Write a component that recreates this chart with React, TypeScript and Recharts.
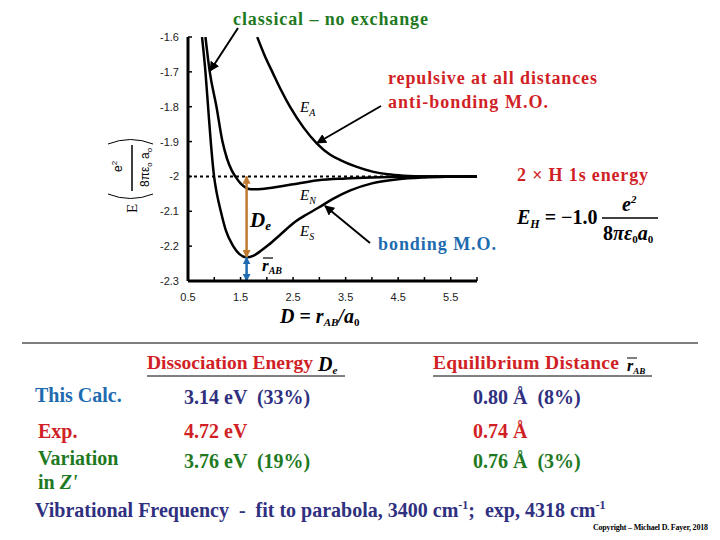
import React from "react";
import { LineChart, Line, XAxis, YAxis, ReferenceLine } from "recharts";

// axis ticks
const xTicks = [0.5, 1, 1.5, 2, 2.5, 3, 3.5, 4, 4.5, 5, 5.5, 6];
const yTicks = [-2.3, -2.2, -2.1, -2, -1.9, -1.8, -1.7, -1.6];

// E_S : bonding M.O.
const esR = [0.767, 0.832, 0.882, 0.933, 0.996, 1.05, 1.124, 1.22, 1.36, 1.48, 1.61, 1.75, 1.9, 2.03, 2.25, 2.54, 2.75, 2.98, 3.25, 3.59, 4.0, 4.5, 5.0, 5.5, 6.0];
const esE = [-1.6, -1.7, -1.8, -1.9, -2.0, -2.05, -2.1, -2.155, -2.2, -2.223, -2.232, -2.227, -2.212, -2.197, -2.168, -2.13, -2.11, -2.09, -2.065, -2.04, -2.02, -2.008, -2.003, -2.001, -2.0];

// E_N : classical, no exchange
const enR = [0.832, 0.914, 1.042, 1.156, 1.245, 1.33, 1.4, 1.5, 1.6, 1.71, 1.9, 2.28, 2.6, 2.98, 3.5, 4.0, 4.5, 5.0, 6.0];
const enE = [-1.6, -1.7, -1.8, -1.9, -1.95, -1.982, -2.0, -2.02, -2.032, -2.037, -2.036, -2.028, -2.02, -2.011, -2.006, -2.003, -2.001, -2.0, -2.0];

// E_A : anti-bonding M.O.
const eaR = [1.817, 1.95, 2.12, 2.28, 2.44, 2.7, 2.95, 3.2, 3.4, 3.7, 4.03, 4.3, 4.6, 5.0, 5.5, 6.0];
const eaE = [-1.6, -1.65, -1.705, -1.755, -1.8, -1.86, -1.905, -1.937, -1.953, -1.972, -1.987, -1.994, -1.998, -2.0, -2.0, -2.0];

// equilibrium point and dissociation limit
const eqR = 1.615;
const eqE = -2.232;
const limitE = -2.0;
const axisBottom = -2.3;

const toPoints = (r: number[], e: number[]) => r.map((x, i) => ({ x, y: e[i] }));

const RED = "#d11f26";
const GREEN = "#1f7a1f";
const BLUE = "#1e6bb0";
const NAVY = "#303080";
const BROWN = "#c07a30";
const SERIF = "Liberation Serif, Times New Roman, serif";
const SANS = "Liberation Sans, Arial, sans-serif";

const XTick = (props: any) => {
  const { x, y, payload } = props;
  const v = payload.value;
  const show = Math.abs(((v - 0.5) % 1)) < 1e-6 && v < 5.9;
  return (
    <g>
      <line x1={x} x2={x} y1={y} y2={y - 4} stroke="#000" strokeWidth={1.5} />
      {show && (
        <text x={x} y={y + 20} textAnchor="middle" fontSize={11} fontFamily={SANS} fill="#222">
          {v.toFixed(1)}
        </text>
      )}
    </g>
  );
};

const YTick = (props: any) => {
  const { x, y, payload } = props;
  return (
    <g>
      <line x1={x} x2={x + 4} y1={y} y2={y} stroke="#000" strokeWidth={1.5} />
      <text x={x - 9} y={y + 4} textAnchor="end" fontSize={11} fontFamily={SANS} fill="#222">
        {String(payload.value)}
      </text>
    </g>
  );
};

export default function App() {
  return (
    <div style={{ position: "fixed", left: 0, top: 0, width: 720, height: 540, background: "#fff" }}>
      <LineChart width={720} height={540} margin={{ top: 37, right: 243, bottom: 229, left: 148 }}>
        <XAxis
          type="number"
          dataKey="x"
          domain={[0.5, 6]}
          ticks={xTicks}
          allowDataOverflow
          height={30}
          tickSize={0}
          tickMargin={0}
          tickLine={false}
          tick={<XTick />}
          axisLine={{ stroke: "#000", strokeWidth: 3 }}
          interval={0}
        />
        <YAxis
          type="number"
          domain={[-2.3, -1.6]}
          ticks={yTicks}
          allowDataOverflow
          width={40}
          tickSize={0}
          tickMargin={0}
          tickLine={false}
          tick={<YTick />}
          axisLine={{ stroke: "#000", strokeWidth: 3 }}
          interval={0}
        />
        <ReferenceLine y={limitE} stroke="#000" strokeWidth={2} strokeDasharray="3 3" />
        <Line data={toPoints(eaR, eaE)} dataKey="y" type="monotone" stroke="#000" strokeWidth={2.5} dot={false} isAnimationActive={false} />
        <Line data={toPoints(enR, enE)} dataKey="y" type="monotone" stroke="#000" strokeWidth={2.5} dot={false} isAnimationActive={false} />
        <Line data={toPoints(esR, esE)} dataKey="y" type="monotone" stroke="#000" strokeWidth={2.5} dot={false} isAnimationActive={false} />
        <ReferenceLine
          segment={[{ x: eqR, y: limitE }, { x: eqR, y: eqE }]}
          stroke={BROWN}
          strokeWidth={2.5}
          markerStart="url(#brownHead)"
          markerEnd="url(#brownHead)"
        />
        <ReferenceLine
          segment={[{ x: eqR, y: eqE }, { x: eqR, y: axisBottom }]}
          stroke={BLUE}
          strokeWidth={2.5}
          markerStart="url(#blueHead)"
          markerEnd="url(#blueHead)"
        />
      </LineChart>

      <svg width={720} height={540} style={{ position: "absolute", left: 0, top: 0, pointerEvents: "none" }}>
        <defs>
          <marker id="brownHead" viewBox="0 0 10 10" refX="9" refY="5" markerWidth="3.2" markerHeight="3.2" orient="auto-start-reverse">
            <path d="M0,0 L10,5 L0,10 z" fill={BROWN} />
          </marker>
          <marker id="blueHead" viewBox="0 0 10 10" refX="9" refY="5" markerWidth="3.2" markerHeight="3.2" orient="auto-start-reverse">
            <path d="M0,0 L10,5 L0,10 z" fill={BLUE} />
          </marker>
          <marker id="blackHead" viewBox="0 0 10 10" refX="9" refY="5" markerWidth="5" markerHeight="5" orient="auto">
            <path d="M0,0 L10,5 L0,10 z" fill="#000" />
          </marker>
        </defs>

        {/* y axis title */}
        <g transform="translate(132,175) rotate(-90)" fill="#000">
          <text x={-38} y={5} fontSize={15} fontFamily={SERIF}>E</text>
          <path d="M -19,-24 Q -28,-1.5 -19,21" fill="none" stroke="#000" strokeWidth={1} />
          <text x={3} y={-10} fontSize={12} fontFamily={SANS}>
            e<tspan fontSize={8} dy={-5}>2</tspan>
          </text>
          <line x1={-16} x2={30} y1={0} y2={0} stroke="#000" strokeWidth={1.5} />
          <text x={-12} y={17} fontSize={12} fontFamily={SANS}>
            8πε<tspan fontSize={8} dy={3}>o</tspan>
            <tspan dy={-3}> a</tspan>
            <tspan fontSize={8} dy={3}>o</tspan>
          </text>
          <path d="M 31,-24 Q 40,-1.5 31,21" fill="none" stroke="#000" strokeWidth={1} />
        </g>

        {/* annotations */}
        <text x={233} y={25} fontSize={18} fontWeight="bold" fontFamily={SERIF} fill={GREEN} textLength={195}>
          classical – no exchange
        </text>
        <line x1={238} y1={28} x2={210} y2={71} stroke="#000" strokeWidth={2} markerEnd="url(#blackHead)" />

        <text x={388} y={84} fontSize={18} fontWeight="bold" fontFamily={SERIF} fill={RED} textLength={209}>
          repulsive at all distances
        </text>
        <text x={388} y={108} fontSize={18} fontWeight="bold" fontFamily={SERIF} fill={RED} textLength={160}>
          anti-bonding M.O.
        </text>
        <line x1={381} y1={106} x2={317} y2={143} stroke="#000" strokeWidth={2} markerEnd="url(#blackHead)" />

        <text x={517} y={181} fontSize={18} fontWeight="bold" fontFamily={SERIF} fill={RED} textLength={131}>
          2 × H 1s energy
        </text>
        <text x={378} y={250} fontSize={18} fontWeight="bold" fontFamily={SERIF} fill={BLUE} textLength={118}>
          bonding M.O.
        </text>
        <line x1={370} y1={243} x2={325} y2={206} stroke="#000" strokeWidth={2} markerEnd="url(#blackHead)" />

        <text x={300} y={112} fontSize={15} fontStyle="italic" fontFamily={SERIF}>
          E<tspan fontSize={10} dy={4}>A</tspan>
        </text>
        <text x={300} y={200} fontSize={15} fontStyle="italic" fontFamily={SERIF}>
          E<tspan fontSize={10} dy={4}>N</tspan>
        </text>
        <text x={300} y={236} fontSize={15} fontStyle="italic" fontFamily={SERIF}>
          E<tspan fontSize={10} dy={4}>S</tspan>
        </text>
        <text x={250} y={227} fontSize={21} fontStyle="italic" fontWeight="bold" fontFamily={SERIF}>
          D<tspan fontSize={13} dy={3}>e</tspan>
        </text>
        <line x1={263} x2={273} y1={258} y2={258} stroke="#000" strokeWidth={1.2} />
        <text x={262} y={271} fontSize={17} fontStyle="italic" fontWeight="bold" fontFamily={SERIF}>
          r<tspan fontSize={10} dy={3}>AB</tspan>
        </text>

        {/* E_H formula */}
        <text x={517} y={224} fontSize={20} fontWeight="bold" fontFamily={SERIF}>
          <tspan fontStyle="italic">E</tspan>
          <tspan fontSize={12} fontStyle="italic" dy={4}>H</tspan>
          <tspan dy={-4}> = −1.0</tspan>
        </text>
        <text x={622} y={211} fontSize={20} fontWeight="bold" fontStyle="italic" fontFamily={SERIF}>
          e<tspan fontSize={11} dy={-8}>2</tspan>
        </text>
        <line x1={602} x2={658} y1={218} y2={218} stroke="#000" strokeWidth={1.3} />
        <text x={603} y={240} fontSize={20} fontWeight="bold" fontFamily={SERIF}>
          8<tspan fontStyle="italic">πε</tspan>
          <tspan fontSize={11} dy={3}>0</tspan>
          <tspan fontStyle="italic" dy={-3}>a</tspan>
          <tspan fontSize={11} dy={3}>0</tspan>
        </text>

        {/* x axis title */}
        <text x={280} y={323} fontSize={20} fontWeight="bold" fontStyle="italic" fontFamily={SERIF}>
          D<tspan fontStyle="normal"> = </tspan>r<tspan fontSize={11} dy={3}>AB</tspan>
          <tspan dy={-3}>/a</tspan>
          <tspan fontSize={11} dy={3} fontStyle="normal">0</tspan>
        </text>

        {/* summary table */}
        <line x1={22} x2={698} y1={343} y2={343} stroke="#000" strokeWidth={1} />
        <text x={147} y={369} fontSize={19.5} fontWeight="bold" fontFamily={SERIF} fill={RED} textLength={166}>
          Dissociation Energy
        </text>
        <text x={318} y={371} fontSize={20} fontWeight="bold" fontStyle="italic" fontFamily={SERIF}>
          D<tspan fontSize={11} dy={3}>e</tspan>
        </text>
        <line x1={147} x2={345} y1={376} y2={376} stroke="#000" strokeWidth={1} />
        <text x={433} y={369} fontSize={19.5} fontWeight="bold" fontFamily={SERIF} fill={RED} textLength={186}>
          Equilibrium Distance
        </text>
        <line x1={627} x2={637} y1={358} y2={358} stroke="#000" strokeWidth={1} />
        <text x={627} y={371} fontSize={16} fontWeight="bold" fontStyle="italic" fontFamily={SERIF}>
          r<tspan fontSize={9} dy={3}>AB</tspan>
        </text>
        <line x1={433} x2={652} y1={376} y2={376} stroke="#000" strokeWidth={1} />

        <g fontSize={20} fontWeight="bold" fontFamily={SERIF}>
          <text x={35} y={402} fill={BLUE}>This Calc.</text>
          <text x={184} y={404} fill={NAVY} xmlSpace="preserve">3.14 eV  (33%)</text>
          <text x={473} y={404} fill={NAVY} xmlSpace="preserve">0.80 Å  (8%)</text>

          <text x={38} y={438} fill={RED}>Exp.</text>
          <text x={184} y={438} fill={RED}>4.72 eV</text>
          <text x={473} y={438} fill={RED}>0.74 Å</text>

          <text x={38} y={465} fill={GREEN}>Variation</text>
          <text x={38} y={489} fill={GREEN}>
            in <tspan fontStyle="italic">Z'</tspan>
          </text>
          <text x={184} y={468} fill={GREEN} xmlSpace="preserve">3.76 eV  (19%)</text>
          <text x={473} y={468} fill={GREEN} xmlSpace="preserve">0.76 Å  (3%)</text>

          <text x={35} y={517} fill={NAVY} xmlSpace="preserve">
            Vibrational Frequency  -  fit to parabola, 3400 cm<tspan fontSize={12} dy={-8}>-1</tspan>
            <tspan dy={8}>;  exp, 4318 cm</tspan>
            <tspan fontSize={12} dy={-8}>-1</tspan>
          </text>
        </g>
        <text x={593} y={530} fontSize={8} fontWeight="bold" fontFamily={SERIF} textLength={115}>
          Copyright – Michael D. Fayer, 2018
        </text>
      </svg>
    </div>
  );
}
